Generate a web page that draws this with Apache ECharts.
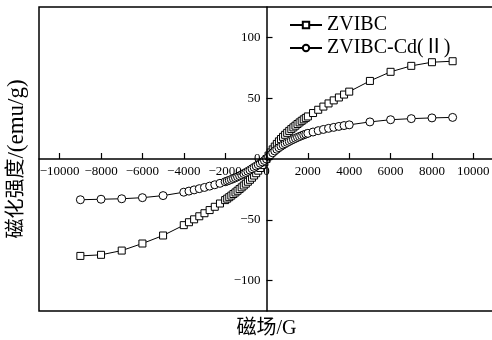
<!DOCTYPE html>
<html>
<head>
<meta charset="utf-8">
<script src="https://cdn.jsdelivr.net/npm/echarts@6/dist/echarts.min.js"></script>
<style>
  html, body { margin: 0; padding: 0; background: #fff; }
  #chart { width: 492px; height: 340px; }
</style>
</head>
<body>
<div id="chart"></div>
<script>
// Applied field (G), shared by both magnetization curves
const fieldG = [
  -9000, -8000, -7000, -6000, -5000,
  -4000, -3750, -3500, -3250, -3000, -2750, -2500, -2250,
  -2000, -1900, -1800, -1700, -1600, -1500, -1400, -1300, -1200, -1100,
  -1000, -900, -800, -700, -600, -500, -400, -300, -200, -100,
  0,
  100, 200, 300, 400, 500, 600, 700, 800, 900, 1000,
  1100, 1200, 1300, 1400, 1500, 1600, 1700, 1800, 1900, 2000,
  2250, 2500, 2750, 3000, 3250, 3500, 3750, 4000,
  5000, 6000, 7000, 8000, 9000
];

// Magnetization (emu/g) of ZVIBC
const zvibc = [
  -79.7, -78.8, -75.3, -69.5, -62.9,
  -54.4, -52.0, -49.6, -47.1, -44.6, -42.0, -39.3, -36.6,
  -33.8, -32.6, -31.4, -30.1, -28.8, -27.5, -26.1, -24.7, -23.3, -21.8,
  -20.3, -18.7, -17.1, -15.4, -13.6, -11.7, -9.6, -7.4, -5.0, -2.6,
  0,
  2.8, 5.4, 7.9, 10.2, 12.4, 14.5, 16.4, 18.2, 19.9, 21.5,
  23.1, 24.6, 26.0, 27.4, 28.8, 30.1, 31.4, 32.6, 33.8, 35.0,
  37.8, 40.5, 43.1, 45.7, 48.2, 50.6, 53.0, 55.4,
  64.2, 71.7, 76.6, 79.6, 80.4
];

// Magnetization (emu/g) of ZVIBC after Cd(II) loading
const zvibcCd = [
  -33.5, -33.1, -32.7, -31.8, -30.1,
  -27.3, -26.4, -25.4, -24.4, -23.4, -22.3, -21.2, -20.0,
  -18.7, -18.1, -17.5, -16.8, -16.1, -15.4, -14.6, -13.8, -12.9, -12.0,
  -11.1, -10.1, -9.1, -8.0, -6.9, -5.8, -4.7, -3.5, -2.4, -1.2,
  0,
  1.8, 3.5, 5.1, 6.6, 8.0, 9.3, 10.5, 11.6, 12.6, 13.6,
  14.5, 15.4, 16.2, 17.0, 17.8, 18.5, 19.2, 19.9, 20.5, 21.1,
  22.2, 23.3, 24.3, 25.2, 26.0, 26.8, 27.5, 28.1,
  30.5, 32.3, 33.2, 33.8, 34.2
];

const seriesNames = ['ZVIBC', 'ZVIBC-Cd(Ⅱ)'];
const xTicks = [-10000, -8000, -6000, -4000, -2000, 0, 2000, 4000, 6000, 8000, 10000];
const yTicks = [-100, -50, 0, 50, 100];
const xRange = [-11000, 11000];
const yRange = [-125, 125];

const serif = '"Liberation Serif", "Times New Roman", "Noto Sans CJK SC", serif';
const minusSign = v => String(v).replace('-', '\u2212');

const pairs = ys => fieldG.map((h, i) => [h, ys[i]]);

// Plot box (px); both axes cross at the origin, so each axis is
// shifted from its box edge to the zero of the other axis.
const W = 492, H = 340;
const box = { left: 39, right: -2, top: 7, bottom: 29 };
const boxW = W - box.left - box.right;
const boxH = H - box.top - box.bottom;
const xZeroShift = boxW * (0 - xRange[0]) / (xRange[1] - xRange[0]);
const yZeroShift = boxH * (0 - yRange[0]) / (yRange[1] - yRange[0]);

const chart = echarts.init(document.getElementById('chart'), null, { renderer: 'canvas' });

chart.setOption({
  animation: false,
  backgroundColor: '#fff',
  textStyle: { fontFamily: serif, color: '#000' },
  grid: {
    left: box.left, right: box.right, top: box.top, bottom: box.bottom,
    containLabel: false,
    outerBoundsMode: 'none',
    show: true, borderColor: '#000', borderWidth: 1.5, backgroundColor: 'transparent'
  },
  legend: {
    orient: 'vertical',
    left: 284, top: 10,
    itemWidth: 32, itemHeight: 8, itemGap: 3,
    textStyle: { fontFamily: serif, fontSize: 20, color: '#000' },
    data: seriesNames
  },
  xAxis: {
    type: 'value',
    min: xRange[0], max: xRange[1],
    position: 'bottom',
    offset: -yZeroShift,
    z: 5,
    axisLine: { onZero: false, lineStyle: { color: '#000', width: 1.5 } },
    axisTick: { inside: true, length: 6, customValues: xTicks, lineStyle: { color: '#000', width: 1.2 } },
    axisLabel: { customValues: xTicks, margin: 6, fontSize: 13, color: '#000', fontFamily: serif, formatter: minusSign, hideOverlap: false },
    splitLine: { show: false },
    name: '磁场/G',
    nameLocation: 'middle',
    nameGap: 160,
    nameTextStyle: { fontSize: 20, color: '#000', fontFamily: serif }
  },
  yAxis: {
    type: 'value',
    min: yRange[0], max: yRange[1],
    position: 'left',
    offset: -xZeroShift,
    z: 5,
    axisLine: { onZero: false, lineStyle: { color: '#000', width: 1.5 } },
    axisTick: { inside: true, length: 6, customValues: yTicks, lineStyle: { color: '#000', width: 1.2 } },
    axisLabel: { customValues: yTicks, margin: 6, fontSize: 13, color: '#000', fontFamily: serif, formatter: minusSign, hideOverlap: false },
    splitLine: { show: false },
    name: '{cjk|磁化强度}{lat|/(emu/g)}',
    nameLocation: 'middle',
    nameGap: 238,
    nameTextStyle: {
      fontSize: 20, color: '#000', fontFamily: serif,
      rich: {
        cjk: { fontSize: 20, fontFamily: serif, color: '#000' },
        lat: { fontSize: 23, fontFamily: serif, color: '#000' }
      }
    }
  },
  series: [
    {
      name: seriesNames[0],
      type: 'line',
      data: pairs(zvibc),
      symbol: 'rect',
      symbolSize: 7,
      showAllSymbol: true,
      lineStyle: { color: '#000', width: 1 },
      itemStyle: { color: '#fff', borderColor: '#000', borderWidth: 1 }
    },
    {
      name: seriesNames[1],
      type: 'line',
      data: pairs(zvibcCd),
      symbol: 'circle',
      symbolSize: 8,
      showAllSymbol: true,
      lineStyle: { color: '#000', width: 1 },
      itemStyle: { color: '#fff', borderColor: '#000', borderWidth: 1 }
    }
  ]
});
</script>
</body>
</html>
